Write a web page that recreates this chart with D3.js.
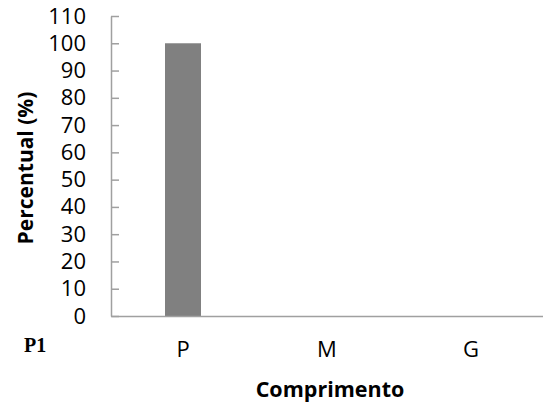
<!DOCTYPE html>
<html><head><meta charset="utf-8">
<script src="https://cdn.jsdelivr.net/npm/d3@7"></script>
<style>body{margin:0;background:#fff}</style>
</head><body>
<svg id="c" width="543" height="410"></svg>
<script>
const categories = ["P", "M", "G"];
const values = [100, 0, 0];
const yTicks = [0, 10, 20, 30, 40, 50, 60, 70, 80, 90, 100, 110];

const svg = d3.select("#c");
const m = {left: 111, right: 543, top: 16, bottom: 316};
const x = d3.scaleBand().domain(categories).range([m.left, m.right]).padding(0);
const y = d3.scaleLinear().domain([0, 110]).range([m.bottom, m.top]);
const font = "'Open Sans', Calibri, sans-serif";
const axisColor = "#a0a0a0";

// bars
const bw = x.bandwidth() * 0.25;
svg.selectAll("rect.bar").data(categories).enter().append("rect")
  .attr("x", d => x(d) + x.bandwidth()/2 - bw/2)
  .attr("y", (d,i) => y(values[i]))
  .attr("width", bw)
  .attr("height", (d,i) => y(0) - y(values[i]))
  .attr("fill", "#808080");

// y axis
const ya = svg.append("g").attr("transform", `translate(${m.left},0)`)
  .call(d3.axisLeft(y).tickValues(yTicks).tickSizeInner(-8).tickSizeOuter(0).tickPadding(25));
ya.select(".domain").attr("stroke", axisColor).attr("stroke-width", 1.5);
ya.selectAll(".tick line").attr("stroke", axisColor).attr("stroke-width", 1.5);
ya.selectAll(".tick text").attr("font-family", font).attr("font-size", 22).attr("fill", "#000");

// x axis
const xa = svg.append("g").attr("transform", `translate(0,${m.bottom})`)
  .call(d3.axisBottom(x).tickSize(0).tickPadding(25));
xa.select(".domain").attr("stroke", axisColor).attr("stroke-width", 1.5);
xa.selectAll(".tick text").attr("font-family", font).attr("font-size", 22).attr("fill", "#000");

// titles
svg.append("text").attr("x", 330).attr("y", 397).attr("text-anchor", "middle")
  .attr("font-family", font).attr("font-weight", "bold").attr("font-size", 21.5).text("Comprimento");
svg.append("text").attr("transform", "translate(33,168) rotate(-90)").attr("text-anchor", "middle")
  .attr("font-family", font).attr("font-weight", "bold").attr("font-size", 21).text("Percentual (%)");
svg.append("text").attr("x", 24).attr("y", 352)
  .attr("font-family", "'Liberation Serif', 'Times New Roman', serif").attr("font-weight", "bold").attr("font-size", 20).text("P1");
</script>
</body></html>
